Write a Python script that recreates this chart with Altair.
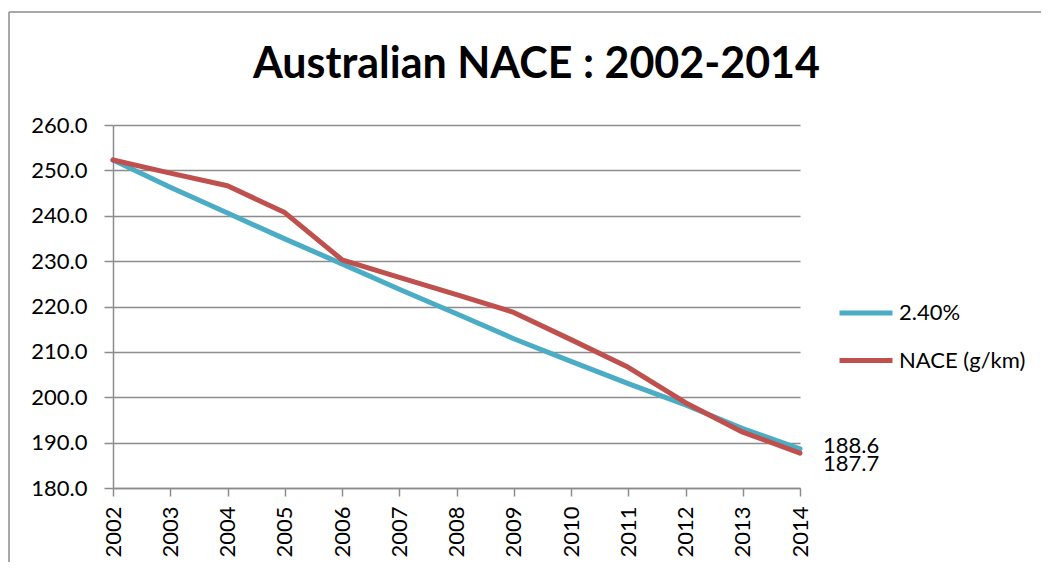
import altair as alt
import pandas as pd

# ---- data ----
years = [2002, 2003, 2004, 2005, 2006, 2007, 2008, 2009, 2010, 2011, 2012, 2013, 2014]
rate_values = [252.3, 246.3, 240.6, 234.9, 229.4, 223.8, 218.4, 212.9, 207.9, 203.0, 198.3, 193.1, 188.6]
nace_values = [252.3, 249.4, 246.6, 240.7, 230.3, 226.4, 222.6, 218.7, 212.7, 206.6, 198.8, 192.3, 187.7]
series_names = ["2.40%", "NACE (g/km)"]
series_colors = ["#4BACC6", "#C0504D"]
y_ticks = [180, 190, 200, 210, 220, 230, 240, 250, 260]
title_text = ["Australian NACE : 2002-2014"]

rows = []
for name, vals in zip(series_names, [rate_values, nace_values]):
    for yr, v in zip(years, vals):
        rows.append({"year": yr, "value": v, "series": name})
df = pd.DataFrame(rows)

end_df = pd.DataFrame({
    "year": [years[-1], years[-1]],
    "value": [rate_values[-1], nace_values[-1]],
    "series": series_names,
})

grey = "#8C8C8C"

x_enc = alt.X(
    "year:Q",
    scale=alt.Scale(domain=[years[0], years[-1]], nice=False, zero=False),
    axis=alt.Axis(values=years, format="d", labelAngle=-90, grid=False,
                  tickSize=8, labelPadding=10, title=None),
)
y_enc = alt.Y(
    "value:Q",
    scale=alt.Scale(domain=[y_ticks[0], y_ticks[-1]], nice=False, zero=False),
    axis=alt.Axis(values=y_ticks, format=".1f", grid=True, tickSize=9,
                  labelPadding=17, title=None),
)

lines = alt.Chart(df).mark_line(strokeWidth=5, strokeCap="round", strokeJoin="round").encode(
    x=x_enc,
    y=y_enc,
    color=alt.Color(
        "series:N",
        scale=alt.Scale(domain=series_names, range=series_colors),
        sort=series_names,
        legend=alt.Legend(
            title=None, orient="none", legendX=724, legendY=159,
            symbolType="stroke", symbolSize=2809, symbolStrokeWidth=5,
            labelOffset=4, labelFontSize=22, labelFont="Lato", labelColor="black",
            rowPadding=7.6, padding=0, labelLimit=400,
        ),
    ),
)

lbl_top = alt.Chart(end_df).transform_filter(
    alt.datum.series == series_names[0]
).mark_text(align="left", baseline="middle", dx=23, dy=-3, fontSize=22, font="Lato", color="black").encode(
    x="year:Q", y="value:Q", text=alt.Text("value:Q", format=".1f")
)
lbl_bot = alt.Chart(end_df).transform_filter(
    alt.datum.series == series_names[1]
).mark_text(align="left", baseline="middle", dx=23, dy=11, fontSize=22, font="Lato", color="black").encode(
    x="year:Q", y="value:Q", text=alt.Text("value:Q", format=".1f")
)

one = alt.Data(values=[{"k": 1}])
frame_left = alt.Chart(one).mark_rule(color=grey, strokeWidth=1.5).encode(
    x=alt.value(-104), y=alt.value(-113), y2=alt.value(440)
)
frame_top = alt.Chart(one).mark_rule(color=grey, strokeWidth=1.5).encode(
    x=alt.value(-104), x2=alt.value(930), y=alt.value(-113)
)

title_mark = alt.Chart(alt.Data(values=[{"t": t} for t in title_text])).mark_text(
    align="center", baseline="alphabetic", fontSize=43, font="Lato",
    fontWeight="bold", color="black",
).encode(x=alt.value(423.5), y=alt.value(-47.3), text="t:N")

chart = alt.layer(frame_left, frame_top, title_mark, lines, lbl_top, lbl_bot).properties(
    width=687,
    height=363,
    autosize=alt.AutoSizeParams(type="none"),
    padding={"left": 105, "top": 117, "right": 241, "bottom": 74},
).configure_view(stroke=None).configure_axis(
    domainColor=grey, domainWidth=1.5, tickColor=grey, tickWidth=1.5,
    gridColor=grey, gridWidth=1.5, gridOpacity=1,
    labelFont="Lato", labelFontSize=22, labelColor="black",
)

chart.save("out.html", embed_options={"renderer": "svg", "actions": False})
